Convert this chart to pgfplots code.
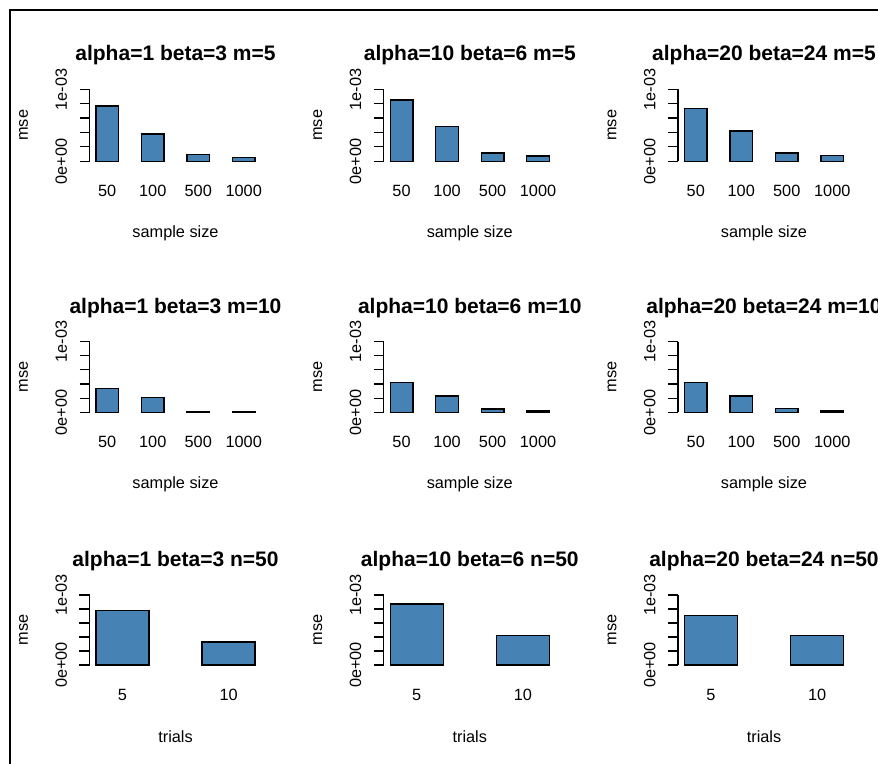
\documentclass[border=0pt]{standalone}
\usepackage{pgfplots}
\pgfplotsset{compat=1.18}
\usepackage{fontspec}
\setmainfont{Liberation Sans}
\definecolor{steelblue}{HTML}{4682B4}

\newcommand{\labfont}{\fontsize{16.3}{19}\selectfont}
\newcommand{\mainfont}{\fontsize{21}{25}\selectfont\bfseries}

\pgfplotsset{
  msepanel/.style={
    anchor=south west, scale only axis, width=172pt,
    ymin=0, ymax=0.001, clip=false,
    axis y line*=left, axis x line*=bottom,
    x axis line style={draw=none},
    y axis line style={line width=1.2pt, black},
    ytick={0,0.0002,0.0004,0.0006,0.0008,0.001},
    yticklabels={0e+00,,,,,1e-03},
    scaled y ticks=false,
    ytick align=outside, major tick length=10pt,
    ytick style={line width=1.2pt, black},
    xtick style={draw=none},
    yticklabel shift=9pt,
    yticklabel style={rotate=90, anchor=south, font=\labfont},
    xticklabel style={anchor=center, yshift=-20pt, font=\labfont},
    every axis title/.style={at={(axis description cs:0.5,1)}, anchor=center, yshift=34pt, font=\mainfont},
    every axis x label/.style={at={(axis description cs:0.5,0)}, anchor=center, yshift=-72pt, font=\labfont},
    every axis y label/.style={at={(axis description cs:0,0.5)}, anchor=center, xshift=-66pt, rotate=90, font=\labfont},
    ylabel=mse,
    ybar, bar width=1,
  },
  sizepanel/.style={msepanel, xmin=0.72, xmax=8.28,
    xtick={1.5,3.5,5.5,7.5}, xticklabels={50,100,500,1000}, xlabel={sample size}},
  trialpanel/.style={msepanel, xmin=0.88, xmax=4.12,
    xtick={1.5,3.5}, xticklabels={5,10}, xlabel={trials}},
  msebar/.style={fill=steelblue, draw=black, line width=1.3pt},
}

\begin{document}
\begin{tikzpicture}
\useasboundingbox (0pt,0pt) rectangle (878pt,763pt);
\clip (0pt,0pt) rectangle (878pt,763pt);
\fill[white] (0pt,0pt) rectangle (878pt,763pt);
\draw[line width=1.6pt] (10pt,-10pt) -- (10pt,753pt) -- (900pt,753pt);

% row 1: m=5
\begin{axis}[sizepanel, at={(89.5pt,601.7pt)}, height=72pt, title={alpha=1 beta=3 m=5}]
\addplot[msebar] coordinates {(1.5,0.00077) (3.5,0.00038) (5.5,0.000097) (7.5,0.000055)};
\end{axis}
\begin{axis}[sizepanel, at={(383.8pt,601.7pt)}, height=72pt, title={alpha=10 beta=6 m=5}]
\addplot[msebar] coordinates {(1.5,0.00085) (3.5,0.00048) (5.5,0.000116) (7.5,0.000074)};
\end{axis}
\begin{axis}[sizepanel, at={(678pt,601.7pt)}, height=72pt, title={alpha=20 beta=24 m=5}]
\addplot[msebar] coordinates {(1.5,0.00073) (3.5,0.00042) (5.5,0.000116) (7.5,0.000079)};
\end{axis}

% row 2: m=10
\begin{axis}[sizepanel, at={(89.5pt,350.7pt)}, height=70.7pt, title={alpha=1 beta=3 m=10}]
\addplot[msebar] coordinates {(1.5,0.000335) (3.5,0.00021) (5.5,0.00001) (7.5,0.000008)};
\end{axis}
\begin{axis}[sizepanel, at={(383.8pt,350.7pt)}, height=70.7pt, title={alpha=10 beta=6 m=10}]
\addplot[msebar] coordinates {(1.5,0.00042) (3.5,0.00023) (5.5,0.000047) (7.5,0.00002)};
\end{axis}
\begin{axis}[sizepanel, at={(678pt,350.7pt)}, height=70.7pt, title={alpha=20 beta=24 m=10}]
\addplot[msebar] coordinates {(1.5,0.00042) (3.5,0.00023) (5.5,0.00005) (7.5,0.00002)};
\end{axis}

% row 3: n=50
\begin{axis}[trialpanel, at={(89.5pt,98pt)}, height=70pt, title={alpha=1 beta=3 n=50}]
\addplot[msebar] coordinates {(1.5,0.00078) (3.5,0.00033)};
\end{axis}
\begin{axis}[trialpanel, at={(383.8pt,98pt)}, height=70pt, title={alpha=10 beta=6 n=50}]
\addplot[msebar] coordinates {(1.5,0.00087) (3.5,0.00042)};
\end{axis}
\begin{axis}[trialpanel, at={(678pt,98pt)}, height=70pt, title={alpha=20 beta=24 n=50}]
\addplot[msebar] coordinates {(1.5,0.00071) (3.5,0.00042)};
\end{axis}
\end{tikzpicture}
\end{document}
